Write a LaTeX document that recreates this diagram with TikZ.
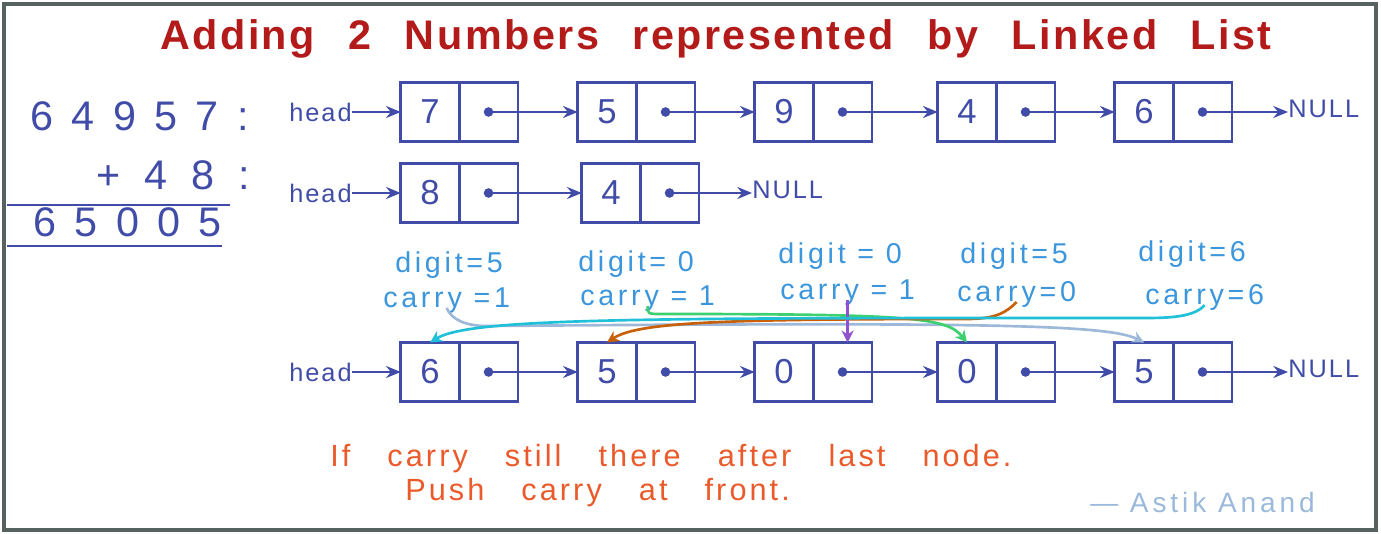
\documentclass[tikz,border=0pt]{standalone}
\usepackage{fontspec}
\setmainfont{Liberation Sans}
\newfontfamily\handfont[LetterSpace=8]{Liberation Sans}
\newfontfamily\infofont[LetterSpace=13]{Liberation Sans}
\newfontfamily\signfont[LetterSpace=14]{Liberation Sans}
\newfontfamily\titlefont[LetterSpace=6, WordSpace=2.4]{Liberation Sans}
\newfontfamily\notefont[LetterSpace=10, WordSpace=3.2]{Liberation Sans}
\usetikzlibrary{positioning, arrows.meta}
\usepackage{xcolor}
\definecolor{inkblue}{RGB}{64,76,168}
\definecolor{titlered}{RGB}{179,27,27}
\definecolor{labelblue}{RGB}{60,150,220}
\definecolor{noteorange}{RGB}{234,90,42}
\definecolor{signgray}{RGB}{155,185,218}
\definecolor{framegray}{RGB}{86,98,95}
\definecolor{carrycyan}{RGB}{32,192,216}
\definecolor{carrygray}{RGB}{157,184,216}
\definecolor{carrygreen}{RGB}{60,208,112}
\definecolor{carryorange}{RGB}{200,96,10}
\definecolor{carrypurple}{RGB}{144,80,208}

\begin{document}
\begin{tikzpicture}[x=0.75pt, y=-0.75pt,
  cell/.style={draw=inkblue, line width=1.9pt, minimum width=43.9pt, minimum height=44.2pt, inner sep=0pt, outer sep=0pt, text=inkblue, font=\handfont\fontsize{26}{26}\selectfont},
  link/.style={draw=inkblue, line width=1.7pt, -{Stealth[length=11pt, width=9pt]}},
  hand/.style={inner sep=0pt, text=inkblue, font=\handfont\fontsize{19}{19}\selectfont},
  info/.style={inner sep=0pt, anchor=base west, text=labelblue, font=\infofont\fontsize{21.5}{21.5}\selectfont},
  sum/.style={inner sep=0pt, text=inkblue, font=\fontsize{31}{31}\selectfont},
  note/.style={inner sep=0pt, anchor=base west, text=noteorange, font=\notefont\fontsize{23}{23}\selectfont},
  carry/.style={line width=2pt, -{Stealth[length=9pt, width=9pt]}}]

\useasboundingbox (0,0) rectangle (1381,534);
\draw[framegray, line width=3pt] (4,4) rectangle (1376,530);

\node[anchor=base, text=titlered, inner sep=0pt, font=\titlefont\bfseries\fontsize{31}{31}\selectfont] (title) at (716,50) {Adding 2 Numbers represented by Linked List};

\node[sum, anchor=base west] (suma) at (30,131) {\spaceskip=13.8pt 6 4 9 5 7 :};
\node[sum, anchor=base east] (sumb) at (250,190) {\spaceskip=18pt + 4 8 :};
\node[sum, anchor=base west] (sumr) at (33,237) {\spaceskip=13.8pt 6 5 0 0 5};
\draw[inkblue, line width=1.9pt] (7,205) -- (230,205);
\draw[inkblue, line width=1.9pt] (7,246) -- (222,246);

\node[hand, anchor=east] (ha) at (352,112) {head};
\node[cell] (a1) at (430,112) {7};
\node[cell, right=0pt of a1] (ap1) {};
\node[cell] (a2) at (607,112) {5};
\node[cell, right=0pt of a2] (ap2) {};
\node[cell] (a3) at (784,112) {9};
\node[cell, right=0pt of a3] (ap3) {};
\node[cell] (a4) at (967,112) {4};
\node[cell, right=0pt of a4] (ap4) {};
\node[cell] (a5) at (1144,112) {6};
\node[cell, right=0pt of a5] (ap5) {};
\node[hand, anchor=west] (na) at (1288,109) {NULL};

\node[hand, anchor=east] (hb) at (352,193) {head};
\node[cell] (b1) at (430,193) {8};
\node[cell, right=0pt of b1] (bp1) {};
\node[cell] (b2) at (611,193) {4};
\node[cell, right=0pt of b2] (bp2) {};
\node[hand, anchor=west] (nb) at (752,190) {NULL};

\node[hand, anchor=east] (hr) at (352,372) {head};
\node[cell] (r1) at (430,372) {6};
\node[cell, right=0pt of r1] (rp1) {};
\node[cell] (r2) at (607,372) {5};
\node[cell, right=0pt of r2] (rp2) {};
\node[cell] (r3) at (784,372) {0};
\node[cell, right=0pt of r3] (rp3) {};
\node[cell] (r4) at (967,372) {0};
\node[cell, right=0pt of r4] (rp4) {};
\node[cell] (r5) at (1144,372) {5};
\node[cell, right=0pt of r5] (rp5) {};
\node[hand, anchor=west] (nr) at (1288,369) {NULL};

\foreach \p in {ap1,ap2,ap3,ap4,ap5,bp1,bp2,rp1,rp2,rp3,rp4,rp5}
  \fill[inkblue] (\p.center) circle (3.6pt);

\draw[link] (ha) -- (a1);
\draw[link] (ap1.center) -- (a2);
\draw[link] (ap2.center) -- (a3);
\draw[link] (ap3.center) -- (a4);
\draw[link] (ap4.center) -- (a5);
\draw[link] (ap5.center) -- (na.west |- ap5.center);

\draw[link] (hb) -- (b1);
\draw[link] (bp1.center) -- (b2);
\draw[link] (bp2.center) -- (nb.west |- bp2.center);

\draw[link] (hr) -- (r1);
\draw[link] (rp1.center) -- (r2);
\draw[link] (rp2.center) -- (r3);
\draw[link] (rp3.center) -- (r4);
\draw[link] (rp4.center) -- (r5);
\draw[link] (rp5.center) -- (nr.west |- rp5.center);

\node[info] (d1) at (395,273) {digit=5};
\node[info] (c1) at (383,308) {carry =1};
\node[info] (d2) at (578,272) {digit= 0};
\node[info] (c2) at (580,306) {carry = 1};
\node[info] (d3) at (778,264) {digit = 0};
\node[info] (c3) at (780,300) {carry = 1};
\node[info] (d4) at (960,264) {digit=5};
\node[info] (c4) at (957,302) {carry=0};
\node[info] (d5) at (1138,262) {digit=6};
\node[info] (c5) at (1145,305) {carry=6};

\draw[carry, carrygray] (c1.base) .. controls +(5,12) and +(-20,0) .. ++(40,18) .. controls +(500,-4) and +(-35,-18) .. (r5.north);
\draw[carry, carrygreen] (c2.base) .. controls +(0,8) and +(-15,0) .. ++(15,8) .. controls +(250,0) and +(-20,-25) .. (r4.north);
\draw[carry, carryorange] (c4.base) .. controls +(-10,10) and +(30,0) .. ++(-50,17) .. controls +(-250,0) and +(30,-20) .. (r2.north);
\draw[carry, carrypurple] (c3.base) -- (c3.base |- rp3.north);
\draw[carry, carrycyan] (c5.base) .. controls +(-10,12) and +(25,0) .. ++(-60,13) .. controls +(-500,0) and +(40,-25) .. (r1.north);

\node[note] (note1) at (330,466) {If carry still there after last node.};
\node[note] (note2) at (405,500) {Push carry at front.};

\node[anchor=base west, inner sep=0pt, text=signgray, font=\signfont\fontsize{21}{21}\selectfont] (sign) at (1090,512) {— Astik Anand};

\end{tikzpicture}
\end{document}
